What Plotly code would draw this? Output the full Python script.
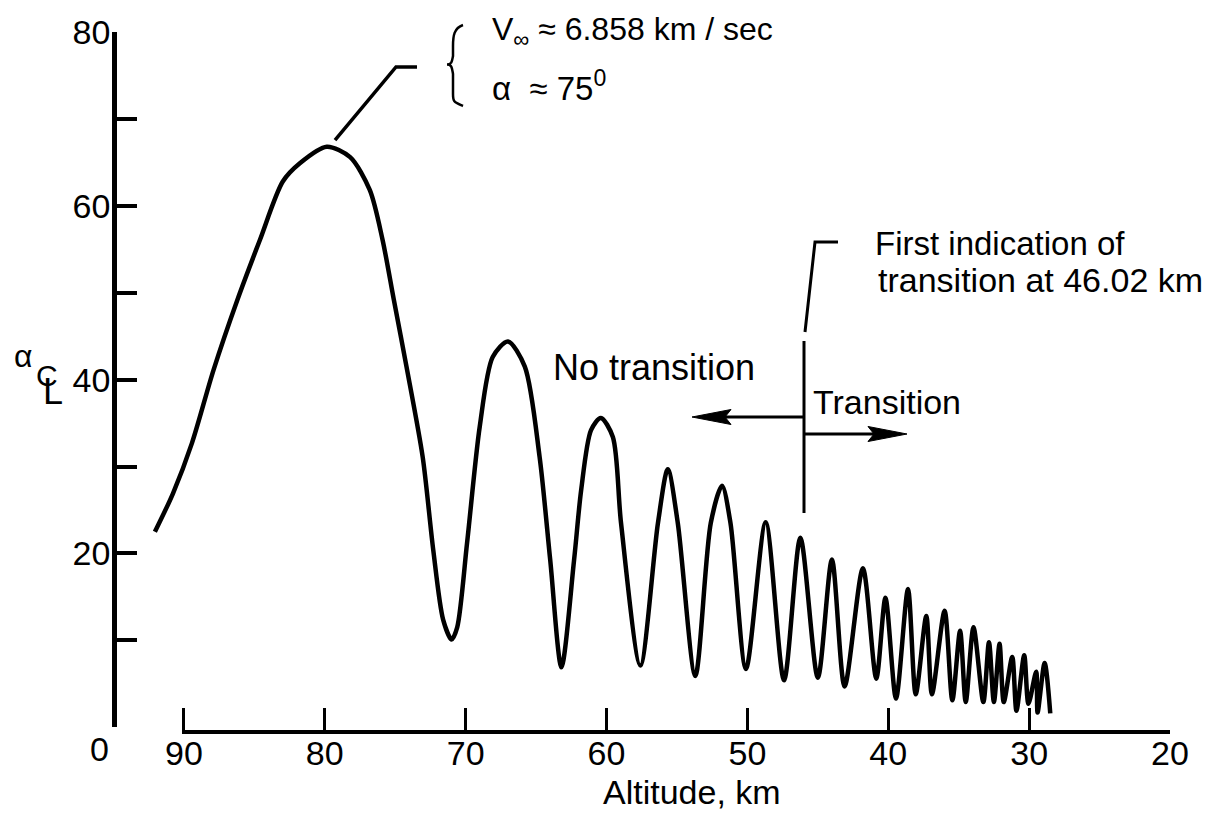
import plotly.graph_objects as go

# ---------------- data ----------------
altitude_km = [92.06, 90.78, 89.43, 87.9, 86.2, 84.6, 82.98, 81.77, 79.86, 78.2, 76.8, 75.9,
               75.1, 74.2, 73.05, 72.3, 71.6, 71.0, 70.6, 69.9, 69.0, 68.08, 67.0,
               65.8, 64.75, 64.0, 63.2, 62.3, 61.8, 61.1, 60.4, 59.55, 58.97, 57.6,
               56.35, 55.65, 54.94, 53.7, 52.6, 51.8, 51.2, 50.1, 48.7, 47.4, 46.24,
               45.0, 44.0, 43.1, 41.8, 40.85, 40.2, 39.45, 38.6, 38.05, 37.3, 36.9,
               36.0, 35.45, 34.9, 34.5, 33.95, 33.25, 32.85, 32.5, 32.1, 31.8, 31.2,
               30.9, 30.35, 30.05, 29.5, 29.4, 28.9, 28.5]
alpha_cl = [22.5, 26.9, 32.7, 41.1, 49.2, 56.1, 62.8, 64.9, 66.8, 65.6, 61.8, 56.1,
            49.2, 41.5, 31.1, 20.4, 12.4, 10.1, 11.5, 21.2, 34.6, 42.6, 44.4,
            41.5, 31.1, 19.3, 6.9, 19.3, 27.3, 34.2, 35.6, 33.4, 23.5, 7.1,
            23.5, 29.7, 23.5, 5.9, 23.5, 27.8, 23.5, 6.7, 23.6, 5.4, 21.8,
            5.7, 19.3, 4.7, 18.3, 5.6, 14.9, 3.3, 15.9, 3.8, 12.8, 3.8,
            13.4, 3.1, 11.1, 2.9, 11.5, 2.9, 9.8, 2.9, 9.6, 2.9, 8.1,
            1.9, 8.3, 2.7, 6.4, 1.7, 7.4, 1.6]

x_tick_vals = [90, 80, 70, 60, 50, 40, 30, 20]
x_tick_text = ["90", "80", "70", "60", "50", "40", "30", "20"]
y_tick_vals = [0, 10, 20, 30, 40, 50, 60, 70, 80]
y_tick_text = ["", "", "20", "", "40", "", "60", "", "80"]

# ---------------- layout geometry ----------------
W, H = 1221, 819
ML, MR, MT, MB = 117, 51, 32, 87
PW = W - ML - MR
PH = H - MT - MB
X_LEFT, X_RIGHT = 94.75, 20.0
X2_LEFT = 90.14
Y_DOM0 = (H - MB - 727.3) / PH

FONT = "Liberation Sans, Arial, sans-serif"


def px(x):
    return (x - ML) / PW


def py(y):
    return (H - MB - y) / PH


def poly(points, close=False):
    s = "M " + " L ".join(f"{px(x):.5f},{py(y):.5f}" for x, y in points)
    return s + (" Z" if close else "")


fig = go.Figure()
fig.add_trace(go.Scatter(
    x=altitude_km, y=alpha_cl, mode="lines",
    line=dict(color="black", width=4.5, shape="spline", smoothing=0.8),
    showlegend=False, hoverinfo="skip"))
fig.add_trace(go.Scatter(x=[], y=[], xaxis="x2", yaxis="y", showlegend=False))

fig.update_layout(
    width=W, height=H,
    margin=dict(l=ML, r=MR, t=MT, b=MB, pad=0),
    paper_bgcolor="white", plot_bgcolor="rgba(0,0,0,0)",
    font=dict(family=FONT, color="black", size=34),
    xaxis=dict(range=[X_LEFT, X_RIGHT], domain=[0, 1], visible=False,
               showgrid=False, zeroline=False),
    xaxis2=dict(range=[X2_LEFT, X_RIGHT],
                domain=[(X_LEFT - X2_LEFT) / (X_LEFT - X_RIGHT), 1],
                anchor="free", position=0,
                showline=True, linewidth=4, linecolor="black",
                ticks="inside", ticklen=22, tickwidth=3, tickcolor="black",
                tickvals=x_tick_vals, ticktext=x_tick_text,
                tickfont=dict(family=FONT, size=34, color="black"),
                ticklabelstandoff=-10,
                showgrid=False, zeroline=False),
    yaxis=dict(range=[0, 80], domain=[Y_DOM0, 1], anchor="x",
               showline=True, linewidth=4.5, linecolor="black",
               ticks="inside", ticklen=20, tickwidth=3.5, tickcolor="black",
               tickvals=y_tick_vals, ticktext=y_tick_text,
               tickfont=dict(family=FONT, size=34, color="black"),
               ticklabelstandoff=-5,
               showgrid=False, zeroline=False),
)

shapes = []
line_style = dict(color="black", width=3)
# leader to the first peak
shapes.append(dict(type="path", xref="paper", yref="paper",
                   path=poly([(335, 140), (396, 67), (417, 67)]), line=dict(color="black", width=3.5)))
# leader to the transition note
shapes.append(dict(type="path", xref="paper", yref="paper",
                   path=poly([(805, 332), (815, 242), (838, 242)]), line=line_style))
# transition marker
shapes.append(dict(type="path", xref="paper", yref="paper",
                   path=poly([(804, 341), (804, 513)]), line=line_style))
# arrow shafts
shapes.append(dict(type="path", xref="paper", yref="paper",
                   path=poly([(804, 417), (722, 417)]), line=line_style))
shapes.append(dict(type="path", xref="paper", yref="paper",
                   path=poly([(804, 434), (875, 434)]), line=line_style))
# arrow heads
shapes.append(dict(type="path", xref="paper", yref="paper",
                   path=poly([(692, 417), (731, 409.5), (725, 417), (731, 424.5)], close=True),
                   fillcolor="black", line=dict(color="black", width=1)))
shapes.append(dict(type="path", xref="paper", yref="paper",
                   path=poly([(907, 434), (868, 426.5), (874, 434), (868, 441.5)], close=True),
                   fillcolor="black", line=dict(color="black", width=1)))
# brace
bp = [(463, 25), (454, 28), (453, 36), (453, 46), (453, 56), (452, 61), (447, 64.5),
      (452, 68), (453, 74), (453, 84), (453, 94), (454, 102), (463, 106)]
brace = (f"M {px(bp[0][0]):.5f},{py(bp[0][1]):.5f} "
         f"C {px(bp[1][0]):.5f},{py(bp[1][1]):.5f} {px(bp[2][0]):.5f},{py(bp[2][1]):.5f} {px(bp[3][0]):.5f},{py(bp[3][1]):.5f} "
         f"L {px(bp[4][0]):.5f},{py(bp[4][1]):.5f} "
         f"C {px(bp[5][0]):.5f},{py(bp[5][1]):.5f} {px(bp[5][0]):.5f},{py(bp[6][1]):.5f} {px(bp[6][0]):.5f},{py(bp[6][1]):.5f} "
         f"C {px(bp[7][0]):.5f},{py(bp[6][1]):.5f} {px(bp[7][0]):.5f},{py(bp[7][1]):.5f} {px(bp[8][0]):.5f},{py(bp[8][1]):.5f} "
         f"L {px(bp[9][0]):.5f},{py(bp[10][1]):.5f} "
         f"C {px(bp[10][0]):.5f},{py(bp[11][1]):.5f} {px(bp[11][0]):.5f},{py(bp[11][1]):.5f} {px(bp[12][0]):.5f},{py(bp[12][1]):.5f}")
shapes.append(dict(type="path", xref="paper", yref="paper", path=brace,
                   line=dict(color="black", width=2.5)))
fig.update_layout(shapes=shapes)


def note(text, x, y, size, xanchor="left", yanchor="middle"):
    fig.add_annotation(text=text, xref="paper", yref="paper", x=px(x), y=py(y),
                       xanchor=xanchor, yanchor=yanchor, showarrow=False,
                       font=dict(family=FONT, size=size, color="black"))


note("V<sub>∞</sub> ≈ 6.858 km / sec", 490, 31, 32)
note("α  ≈ 75<sup>0</sup>", 490, 86, 33)
note("First indication of", 873, 244, 33)
note("transition at 46.02 km", 876, 280, 34)
note("No transition", 551, 367, 36)
note("Transition", 811, 402, 34)
note("Altitude, km", 692, 792, 34, xanchor="center")
note("0", 99.5, 749.5, 34, xanchor="center")
note("α", 12, 356, 32)
note("C", 33.5, 375, 30)
note("L", 40.5, 391, 36)

fig.write_html("out.html")
